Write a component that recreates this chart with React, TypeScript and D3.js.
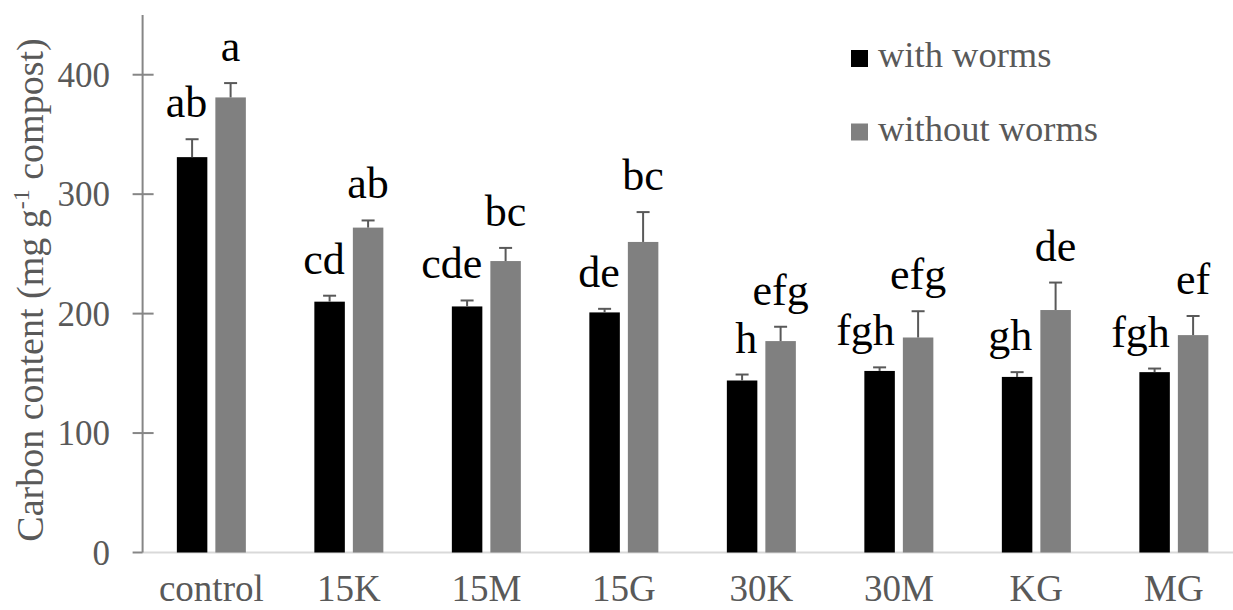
import * as d3 from 'd3';
import { useEffect, useRef } from 'react';

const categories = ['control', '15K', '15M', '15G', '30K', '30M', 'KG', 'MG'];
const series = ['with worms', 'without worms'];
const withWorms = [331, 210, 206, 201, 144, 152, 147, 151];
const withWormsErr = [15, 5, 5, 3, 5, 3, 4, 3];
const withoutWorms = [381, 272, 244, 260, 177, 180, 203, 182];
const withoutWormsErr = [12, 6, 11, 25, 12, 22, 23, 16];
const withWormsLetters = ['ab', 'cd', 'cde', 'de', 'h', 'fgh', 'gh', 'fgh'];
const withoutWormsLetters = ['a', 'ab', 'bc', 'bc', 'efg', 'efg', 'de', 'ef'];
const yTicks = [0, 100, 200, 300, 400];

const FONT = "'Liberation Serif', Tinos, 'DejaVu Serif', serif";
const GREY_TEXT = '#595959';

const App: React.FC = () => {
  const ref = useRef(null);

  useEffect(() => {
    const svg = d3.select(ref.current);
    svg.selectAll('*').remove();

    const width = 1233;
    const left = 142.6;
    const bottom = 552.5;
    const top = 15;

    const x = d3.scaleBand().domain(categories).range([left, left + 137.5 * 8]);
    const bw = x.bandwidth();
    const xInner = d3
      .scaleBand()
      .domain(series)
      .range([bw / 2 - 34.5, bw / 2 + 34.5])
      .paddingInner(0.208);
    const y = d3.scaleLinear().domain([0, 450]).range([bottom, top]);
    const colors = d3.scaleOrdinal<string>().domain(series).range(['#000000', '#808080']);

    const rows = categories.map((c, i) => [
      { cat: c, s: series[0], v: withWorms[i], e: withWormsErr[i], l: withWormsLetters[i] },
      { cat: c, s: series[1], v: withoutWorms[i], e: withoutWormsErr[i], l: withoutWormsLetters[i] },
    ]).flat();

    // x axis line
    svg.append('line')
      .attr('x1', left).attr('x2', width)
      .attr('y1', bottom).attr('y2', bottom)
      .attr('stroke', '#d9d9d9').attr('stroke-width', 2);

    // y axis
    svg.append('line')
      .attr('x1', left).attr('x2', left)
      .attr('y1', top).attr('y2', bottom)
      .attr('stroke', '#868686').attr('stroke-width', 2);

    const yt = svg.append('g');
    yt.selectAll('line')
      .data(yTicks)
      .enter()
      .append('line')
      .attr('x1', left - 10)
      .attr('x2', (d) => (d === 0 ? left : left + 11))
      .attr('y1', (d) => y(d))
      .attr('y2', (d) => y(d))
      .attr('stroke', '#868686')
      .attr('stroke-width', 2);
    yt.selectAll('text')
      .data(yTicks)
      .enter()
      .append('text')
      .attr('x', 110)
      .attr('y', (d) => y(d) + 12)
      .attr('text-anchor', 'end')
      .style('font-family', FONT)
      .attr('font-size', 35)
      .attr('fill', GREY_TEXT)
      .text((d) => d);

    // x labels
    svg.append('g')
      .selectAll('text')
      .data(categories)
      .enter()
      .append('text')
      .attr('x', (d) => (x(d) as number) + bw / 2)
      .attr('y', 601)
      .attr('text-anchor', 'middle')
      .style('font-family', FONT)
      .attr('font-size', 37)
      .attr('fill', GREY_TEXT)
      .text((d) => d);

    // bars
    svg.append('g')
      .selectAll('rect')
      .data(rows)
      .enter()
      .append('rect')
      .attr('x', (d) => (x(d.cat) as number) + (xInner(d.s) as number))
      .attr('y', (d) => y(d.v))
      .attr('width', xInner.bandwidth())
      .attr('height', (d) => bottom - y(d.v))
      .attr('fill', (d) => colors(d.s));

    // error bars
    const eb = svg.append('g').attr('stroke', '#595959').attr('stroke-width', 2);
    rows.forEach((d) => {
      const cx = (x(d.cat) as number) + (xInner(d.s) as number) + xInner.bandwidth() / 2;
      eb.append('line').attr('x1', cx).attr('x2', cx).attr('y1', y(d.v)).attr('y2', y(d.v + d.e));
      eb.append('line').attr('x1', cx - 6.5).attr('x2', cx + 6.5).attr('y1', y(d.v + d.e)).attr('y2', y(d.v + d.e));
    });

    // significance letters
    svg.append('g')
      .selectAll('text')
      .data(rows)
      .enter()
      .append('text')
      .attr('x', (d) => {
        const bx = (x(d.cat) as number) + (xInner(d.s) as number);
        return d.s === series[0] ? bx + xInner.bandwidth() : bx + xInner.bandwidth() / 2;
      })
      .attr('y', (d) => y(d.v + d.e) - 22)
      .attr('text-anchor', (d) => (d.s === series[0] ? 'end' : 'middle'))
      .style('font-family', FONT)
      .attr('font-size', 44)
      .attr('fill', '#000')
      .text((d) => d.l);

    // legend
    const lg = svg.append('g')
      .selectAll('g')
      .data(series)
      .enter()
      .append('g')
      .attr('transform', (d, i) => 'translate(851,' + (50 + i * 73.5) + ')');
    lg.append('rect').attr('width', 17).attr('height', 17).attr('fill', (d) => colors(d));
    lg.append('text')
      .attr('x', 27)
      .attr('y', 17)
      .style('font-family', FONT)
      .attr('font-size', 36.5)
      .attr('fill', GREY_TEXT)
      .text((d) => d);

    // y title
    const title = svg.append('text')
      .attr('transform', 'translate(43,290) rotate(-90)')
      .attr('text-anchor', 'middle')
      .style('font-family', FONT)
      .attr('font-size', 38)
      .attr('fill', GREY_TEXT);
    title.append('tspan').text('Carbon content (mg g');
    title.append('tspan').attr('font-size', 24).attr('dy', -14).text('-1');
    title.append('tspan').attr('dy', 14).text(' compost)');
  }, []);

  return (
    <svg
      ref={ref}
      width={1233}
      height={610}
      style={{ position: 'absolute', left: 0, top: 0, background: '#fff' }}
    ></svg>
  );
};

export default App;
